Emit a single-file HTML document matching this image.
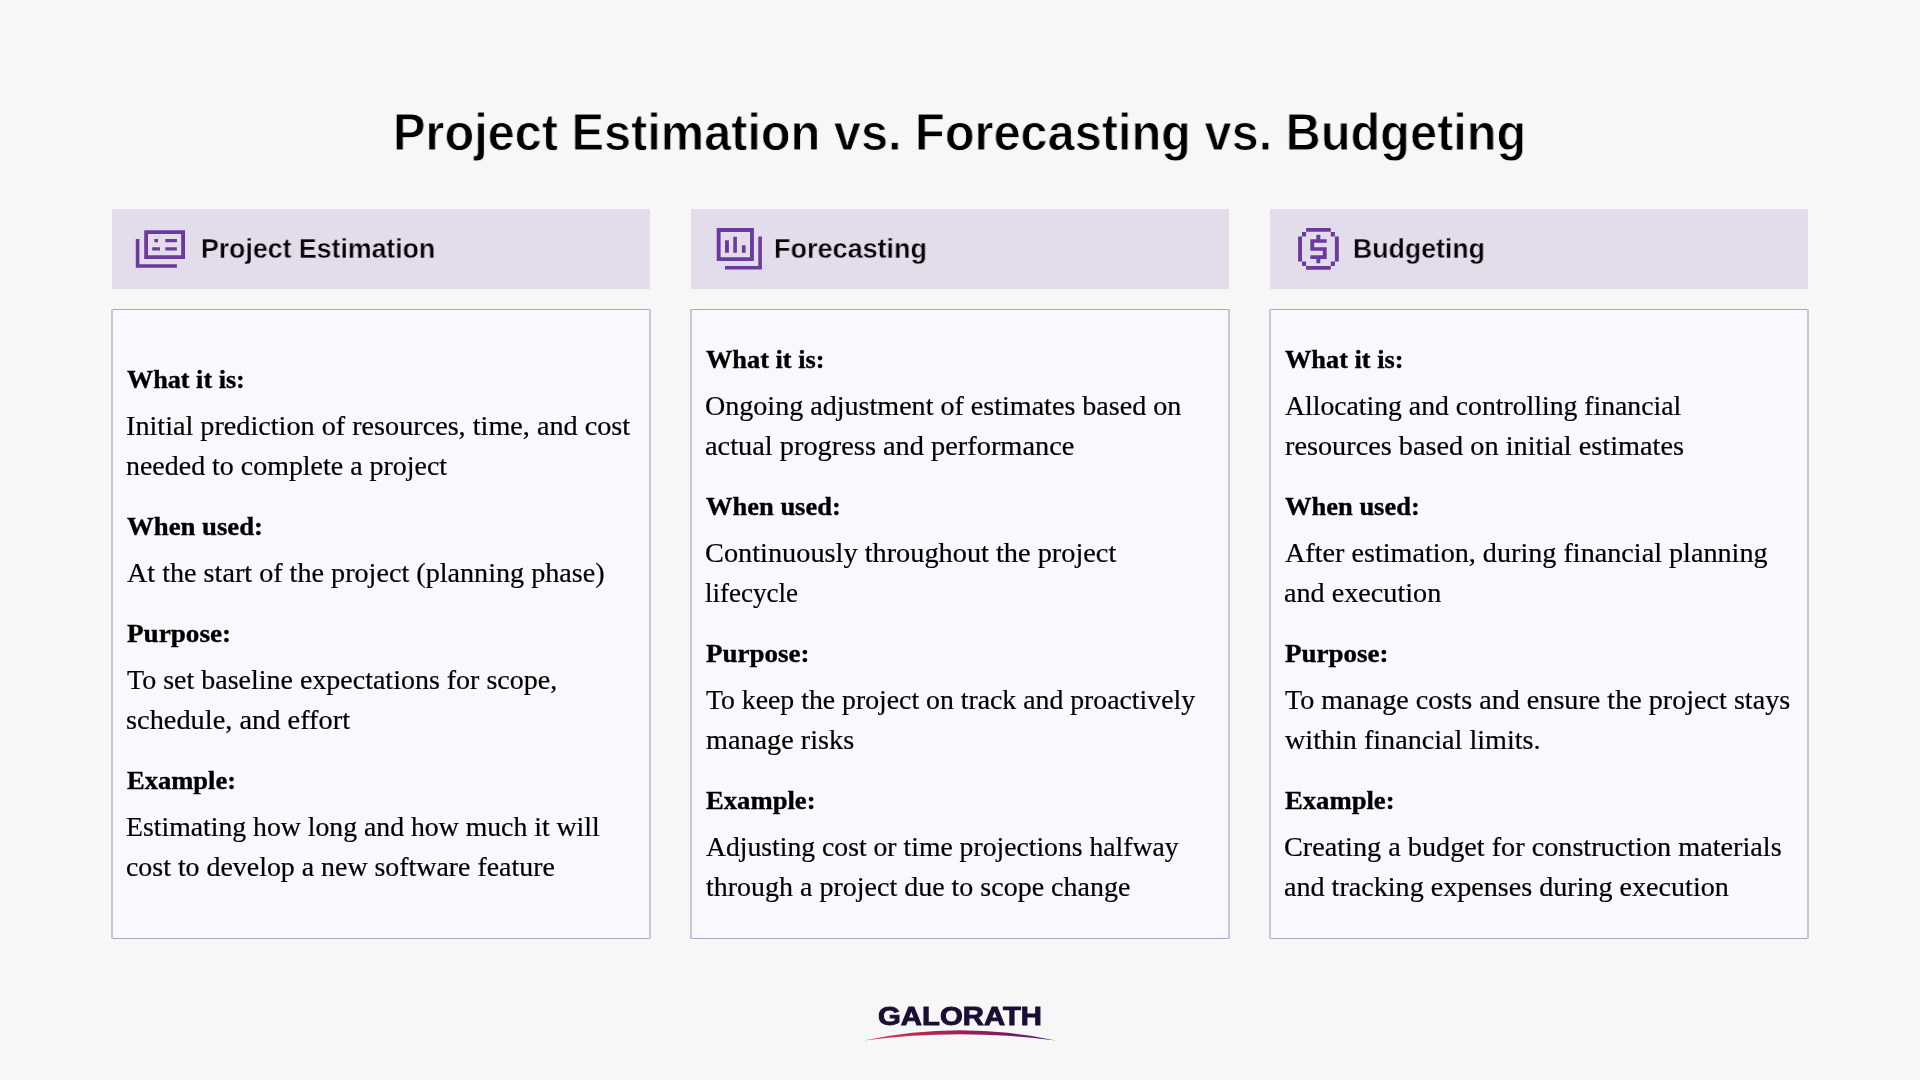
<!DOCTYPE html>
<html><head><meta charset="utf-8"><style>
*{margin:0;padding:0;box-sizing:border-box}
html,body{width:1920px;height:1080px;overflow:hidden;background:#f7f7f7}
body{position:relative}
.ln{position:absolute;white-space:nowrap;transform-origin:0 0;will-change:transform}
.hdr{position:absolute;top:209px;width:538px;height:80px;background:#e3dcea}
.box{position:absolute;top:309px;width:538px;height:630px;background:#faf8fd;border-top:1px solid #b0a6c3;border-bottom:1px solid #b0a6c3}
.vb{position:absolute;top:309px;width:2px;height:630px;background:#ccc5da}
.ic{position:absolute;overflow:visible}
</style></head><body>
<div class="hdr" style="left:112px"></div>
<div class="box" style="left:112px"></div>
<div class="hdr" style="left:691px"></div>
<div class="box" style="left:691px"></div>
<div class="hdr" style="left:1270px"></div>
<div class="box" style="left:1270px"></div>
<div class="vb" style="left:111px"></div>
<div class="vb" style="left:649px"></div>
<div class="vb" style="left:690px"></div>
<div class="vb" style="left:1228px"></div>
<div class="vb" style="left:1269px"></div>
<div class="vb" style="left:1807px"></div>
<svg class="ic" style="left:120px;top:220px" width="80" height="60" viewBox="120 220 80 60"><path fill="#6b3a9f" d="M144.2 230.3h40.8v3.7h-40.8z M144.2 230.3h3.8v28.6h-3.8z M181.2 230.3h3.8v28.6h-3.8z M144.2 255.2h40.8v3.7h-40.8z M135.8 238.9h3.6v28.9h-3.6z M135.8 264.2h41.1v3.6h-41.1z M154.4 238.9h3.6v3.4h-3.6z M165.3 238.9h11.6v3.4h-11.6z M152.2 247.2h7.8v3.4h-7.8z M165.3 247.2h11.6v3.4h-11.6z"/></svg>
<svg class="ic" style="left:700px;top:220px" width="80" height="60" viewBox="700 220 80 60"><path fill="#6b3a9f" d="M716.7 228.1h37.2v3.9h-37.2z M716.7 228.1h3.9v33h-3.9z M750.0 228.1h3.9v33h-3.9z M716.7 257.2h37.2v3.9h-37.2z M725 240.3h3.9v12.5h-3.9z M733.3 236.7h3.6v16.1h-3.6z M741.9 245.3h3.7v7.5h-3.7z M758.3 236.4h3.6v33h-3.6z M725 266.1h36.9v3.3h-36.9z"/></svg>
<svg class="ic" style="left:1285px;top:220px" width="70" height="60" viewBox="1285 220 70 60"><path fill="#6b3a9f" d="M1306.1 228.1h24.7v3.6h-24.7z M1306.1 266.1h24.7v3.6h-24.7z M1302.0 232.0h4.1v4.4h-4.1z M1330.8 232.0h4.1v4.4h-4.1z M1302.0 261.5h4.1v4.4h-4.1z M1330.8 261.5h4.1v4.4h-4.1z M1298.1 236.4h3.9v25.1h-3.9z M1334.9 236.4h3.9v25.1h-3.9z M1316.4 234.7h3.9v4.5h-3.9z M1310.3 239.2h16.4v3.6h-16.4z M1310.3 239.2h3.9v11.6h-3.9z M1310.3 247.2h16.4v3.6h-16.4z M1322.8 247.2h3.9v11.7h-3.9z M1310.3 255.3h16.4v3.6h-16.4z M1316.4 258.9h3.9v4.4h-3.9z"/></svg>
<div class="ln" id="title" style="left:393.00px;top:98.80px;font-size:52.5px;line-height:66px;font-weight:700;font-family:'Liberation Sans', sans-serif;color:#000000;transform:scaleX(0.9271);-webkit-text-stroke:0.9px #f7f7f7">Project Estimation vs. Forecasting vs. Budgeting</div>
<div class="ln" id="h1" style="left:200.70px;top:230.86px;font-size:27.8px;line-height:35px;font-weight:700;font-family:'Liberation Sans', sans-serif;color:#050308;transform:scaleX(0.9598);-webkit-text-stroke:0.35px #e3dcea">Project Estimation</div>
<div class="ln" id="h2" style="left:774.00px;top:231.26px;font-size:27.8px;line-height:35px;font-weight:700;font-family:'Liberation Sans', sans-serif;color:#050308;transform:scaleX(0.9715);-webkit-text-stroke:0.35px #e3dcea">Forecasting</div>
<div class="ln" id="h3" style="left:1353.30px;top:231.06px;font-size:27.8px;line-height:35px;font-weight:700;font-family:'Liberation Sans', sans-serif;color:#050308;transform:scaleX(0.9600);-webkit-text-stroke:0.35px #e3dcea">Budgeting</div>
<div class="ln" id="c1_0" style="left:126.50px;top:363.60px;font-size:25.5px;line-height:32px;font-weight:700;font-family:'Liberation Serif', serif;color:#000000;transform:scaleX(1.0269);-webkit-text-stroke:0.35px #000000">What it is:</div>
<div class="ln" id="c1_1" style="left:126.00px;top:408.89px;font-size:27px;line-height:34px;font-weight:400;font-family:'Liberation Serif', serif;color:#000000;transform:scaleX(1.0439);-webkit-text-stroke:0.2px #000000">Initial prediction of resources, time, and cost</div>
<div class="ln" id="c1_2" style="left:126.00px;top:449.09px;font-size:27px;line-height:34px;font-weight:400;font-family:'Liberation Serif', serif;color:#000000;transform:scaleX(1.0346);-webkit-text-stroke:0.2px #000000">needed to complete a project</div>
<div class="ln" id="c1_3" style="left:126.50px;top:510.80px;font-size:25.5px;line-height:32px;font-weight:700;font-family:'Liberation Serif', serif;color:#000000;transform:scaleX(1.0490);-webkit-text-stroke:0.35px #000000">When used:</div>
<div class="ln" id="c1_4" style="left:127.00px;top:556.29px;font-size:27px;line-height:34px;font-weight:400;font-family:'Liberation Serif', serif;color:#000000;transform:scaleX(1.0427);-webkit-text-stroke:0.2px #000000">At the start of the project (planning phase)</div>
<div class="ln" id="c1_5" style="left:126.50px;top:617.80px;font-size:25.5px;line-height:32px;font-weight:700;font-family:'Liberation Serif', serif;color:#000000;transform:scaleX(1.0645);-webkit-text-stroke:0.35px #000000">Purpose:</div>
<div class="ln" id="c1_6" style="left:127.00px;top:663.09px;font-size:27px;line-height:34px;font-weight:400;font-family:'Liberation Serif', serif;color:#000000;transform:scaleX(1.0366);-webkit-text-stroke:0.2px #000000">To set baseline expectations for scope,</div>
<div class="ln" id="c1_7" style="left:126.00px;top:703.09px;font-size:27px;line-height:34px;font-weight:400;font-family:'Liberation Serif', serif;color:#000000;transform:scaleX(1.0510);-webkit-text-stroke:0.2px #000000">schedule, and effort</div>
<div class="ln" id="c1_8" style="left:126.50px;top:765.20px;font-size:25.5px;line-height:32px;font-weight:700;font-family:'Liberation Serif', serif;color:#000000;transform:scaleX(1.0404);-webkit-text-stroke:0.35px #000000">Example:</div>
<div class="ln" id="c1_9" style="left:126.00px;top:810.29px;font-size:27px;line-height:34px;font-weight:400;font-family:'Liberation Serif', serif;color:#000000;transform:scaleX(1.0270);-webkit-text-stroke:0.2px #000000">Estimating how long and how much it will</div>
<div class="ln" id="c1_10" style="left:126.00px;top:850.29px;font-size:27px;line-height:34px;font-weight:400;font-family:'Liberation Serif', serif;color:#000000;transform:scaleX(1.0325);-webkit-text-stroke:0.2px #000000">cost to develop a new software feature</div>
<div class="ln" id="c2_0" style="left:705.50px;top:344.00px;font-size:25.5px;line-height:32px;font-weight:700;font-family:'Liberation Serif', serif;color:#000000;transform:scaleX(1.0323);-webkit-text-stroke:0.35px #000000">What it is:</div>
<div class="ln" id="c2_1" style="left:705.00px;top:389.29px;font-size:27px;line-height:34px;font-weight:400;font-family:'Liberation Serif', serif;color:#000000;transform:scaleX(1.0396);-webkit-text-stroke:0.2px #000000">Ongoing adjustment of estimates based on</div>
<div class="ln" id="c2_2" style="left:705.00px;top:429.29px;font-size:27px;line-height:34px;font-weight:400;font-family:'Liberation Serif', serif;color:#000000;transform:scaleX(1.0506);-webkit-text-stroke:0.2px #000000">actual progress and performance</div>
<div class="ln" id="c2_3" style="left:705.50px;top:490.80px;font-size:25.5px;line-height:32px;font-weight:700;font-family:'Liberation Serif', serif;color:#000000;transform:scaleX(1.0394);-webkit-text-stroke:0.35px #000000">When used:</div>
<div class="ln" id="c2_4" style="left:705.00px;top:536.09px;font-size:27px;line-height:34px;font-weight:400;font-family:'Liberation Serif', serif;color:#000000;transform:scaleX(1.0486);-webkit-text-stroke:0.2px #000000">Continuously throughout the project</div>
<div class="ln" id="c2_5" style="left:705.00px;top:576.29px;font-size:27px;line-height:34px;font-weight:400;font-family:'Liberation Serif', serif;color:#000000;transform:scaleX(1.0014);-webkit-text-stroke:0.2px #000000">lifecycle</div>
<div class="ln" id="c2_6" style="left:705.50px;top:637.60px;font-size:25.5px;line-height:32px;font-weight:700;font-family:'Liberation Serif', serif;color:#000000;transform:scaleX(1.0582);-webkit-text-stroke:0.35px #000000">Purpose:</div>
<div class="ln" id="c2_7" style="left:706.00px;top:683.09px;font-size:27px;line-height:34px;font-weight:400;font-family:'Liberation Serif', serif;color:#000000;transform:scaleX(1.0282);-webkit-text-stroke:0.2px #000000">To keep the project on track and proactively</div>
<div class="ln" id="c2_8" style="left:706.00px;top:723.09px;font-size:27px;line-height:34px;font-weight:400;font-family:'Liberation Serif', serif;color:#000000;transform:scaleX(1.0452);-webkit-text-stroke:0.2px #000000">manage risks</div>
<div class="ln" id="c2_9" style="left:705.50px;top:784.60px;font-size:25.5px;line-height:32px;font-weight:700;font-family:'Liberation Serif', serif;color:#000000;transform:scaleX(1.0453);-webkit-text-stroke:0.35px #000000">Example:</div>
<div class="ln" id="c2_10" style="left:706.00px;top:830.29px;font-size:27px;line-height:34px;font-weight:400;font-family:'Liberation Serif', serif;color:#000000;transform:scaleX(1.0247);-webkit-text-stroke:0.2px #000000">Adjusting cost or time projections halfway</div>
<div class="ln" id="c2_11" style="left:706.00px;top:870.29px;font-size:27px;line-height:34px;font-weight:400;font-family:'Liberation Serif', serif;color:#000000;transform:scaleX(1.0366);-webkit-text-stroke:0.2px #000000">through a project due to scope change</div>
<div class="ln" id="c3_0" style="left:1284.50px;top:344.00px;font-size:25.5px;line-height:32px;font-weight:700;font-family:'Liberation Serif', serif;color:#000000;transform:scaleX(1.0323);-webkit-text-stroke:0.35px #000000">What it is:</div>
<div class="ln" id="c3_1" style="left:1285.00px;top:389.29px;font-size:27px;line-height:34px;font-weight:400;font-family:'Liberation Serif', serif;color:#000000;transform:scaleX(1.0260);-webkit-text-stroke:0.2px #000000">Allocating and controlling financial</div>
<div class="ln" id="c3_2" style="left:1285.00px;top:429.29px;font-size:27px;line-height:34px;font-weight:400;font-family:'Liberation Serif', serif;color:#000000;transform:scaleX(1.0475);-webkit-text-stroke:0.2px #000000">resources based on initial estimates</div>
<div class="ln" id="c3_3" style="left:1284.50px;top:490.80px;font-size:25.5px;line-height:32px;font-weight:700;font-family:'Liberation Serif', serif;color:#000000;transform:scaleX(1.0394);-webkit-text-stroke:0.35px #000000">When used:</div>
<div class="ln" id="c3_4" style="left:1285.00px;top:536.09px;font-size:27px;line-height:34px;font-weight:400;font-family:'Liberation Serif', serif;color:#000000;transform:scaleX(1.0431);-webkit-text-stroke:0.2px #000000">After estimation, during financial planning</div>
<div class="ln" id="c3_5" style="left:1284.00px;top:576.29px;font-size:27px;line-height:34px;font-weight:400;font-family:'Liberation Serif', serif;color:#000000;transform:scaleX(1.0437);-webkit-text-stroke:0.2px #000000">and execution</div>
<div class="ln" id="c3_6" style="left:1284.50px;top:637.60px;font-size:25.5px;line-height:32px;font-weight:700;font-family:'Liberation Serif', serif;color:#000000;transform:scaleX(1.0582);-webkit-text-stroke:0.35px #000000">Purpose:</div>
<div class="ln" id="c3_7" style="left:1285.00px;top:683.09px;font-size:27px;line-height:34px;font-weight:400;font-family:'Liberation Serif', serif;color:#000000;transform:scaleX(1.0422);-webkit-text-stroke:0.2px #000000">To manage costs and ensure the project stays</div>
<div class="ln" id="c3_8" style="left:1285.00px;top:723.09px;font-size:27px;line-height:34px;font-weight:400;font-family:'Liberation Serif', serif;color:#000000;transform:scaleX(1.0420);-webkit-text-stroke:0.2px #000000">within financial limits.</div>
<div class="ln" id="c3_9" style="left:1284.50px;top:784.60px;font-size:25.5px;line-height:32px;font-weight:700;font-family:'Liberation Serif', serif;color:#000000;transform:scaleX(1.0453);-webkit-text-stroke:0.35px #000000">Example:</div>
<div class="ln" id="c3_10" style="left:1284.00px;top:830.29px;font-size:27px;line-height:34px;font-weight:400;font-family:'Liberation Serif', serif;color:#000000;transform:scaleX(1.0452);-webkit-text-stroke:0.2px #000000">Creating a budget for construction materials</div>
<div class="ln" id="c3_11" style="left:1284.00px;top:870.29px;font-size:27px;line-height:34px;font-weight:400;font-family:'Liberation Serif', serif;color:#000000;transform:scaleX(1.0409);-webkit-text-stroke:0.2px #000000">and tracking expenses during execution</div>
<div class="ln" id="logo" style="left:878.20px;top:999.86px;font-size:25.8px;line-height:32px;font-weight:700;font-family:'Liberation Sans', sans-serif;color:#1c0d33;transform:scaleX(1.1370);-webkit-text-stroke:0.9px #1c0d33">GALORATH</div>
<svg class="ic" style="left:850px;top:995px" width="220" height="55" viewBox="850 995 220 55">
<defs><linearGradient id="sw" x1="864" y1="0" x2="1056" y2="0" gradientUnits="userSpaceOnUse">
<stop offset="0" stop-color="#dc3a4a"/><stop offset="0.5" stop-color="#a11d58"/><stop offset="1" stop-color="#4d1a70"/></linearGradient></defs>
<path d="M864.3 1040.5 Q960 1020.1 1055.7 1040.5 Q960 1028.2 864.3 1040.5z" fill="url(#sw)"/>
</svg>
</body></html>
